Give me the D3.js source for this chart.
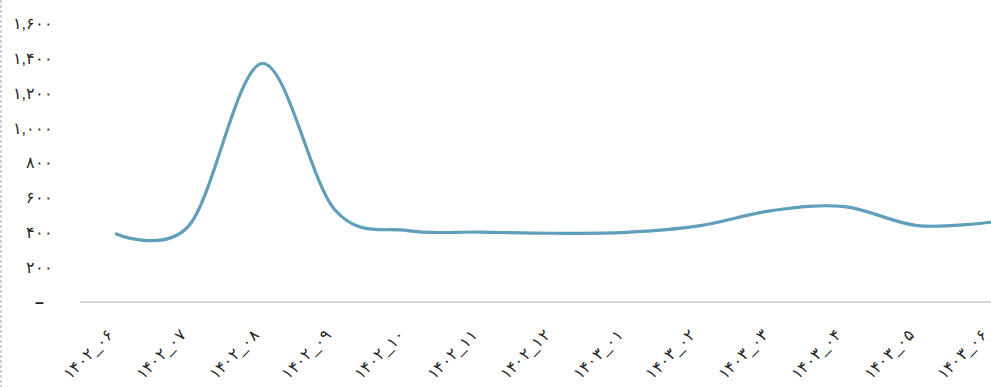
<!DOCTYPE html>
<html>
<head>
<meta charset="utf-8">
<script src="https://cdn.jsdelivr.net/npm/d3@7"></script>
<style>
  body { margin: 0; background: white; }
  svg { display: block; font-family: "DejaVu Sans", sans-serif; }
</style>
</head>
<body>
<svg id="chart"></svg>
<script>
// months (jalali) and values
var months = ["1402_06","1402_07","1402_08","1402_09","1402_10","1402_11","1402_12",
              "1403_01","1403_02","1403_03","1403_04","1403_05","1403_06"];
var values = [391, 440, 1370, 530, 410, 402, 395, 400, 437, 525, 548, 439, 458];
var yTicks = [0, 200, 400, 600, 800, 1000, 1200, 1400, 1600];

var props = {
  svg: {width: 991, height: 387},
  line: {stroke: "#5f9fba", width: 3.2},
  axis: {stroke: "#d9d9d9", text: "#262626"}
};

// latin -> persian digits
function fa(s){
  return String(s).replace(/[0-9]/g, function(c){ return "۰۱۲۳۴۵۶۷۸۹"[+c]; });
}

var data = months.map(function(m, i){ return {month: m, value: values[i]}; });

var left = 80, band = 72.8;

var svg = d3.select("#chart")
    .attr("width", props.svg.width)
    .attr("height", props.svg.height);

// dashed frame edge on the left
svg.append("line")
    .attr("x1", 1).attr("x2", 1)
    .attr("y1", 0).attr("y2", props.svg.height)
    .attr("stroke", "#d0d0d0")
    .attr("stroke-width", 2)
    .attr("stroke-dasharray", "3,2");

var x = d3.scaleBand()
    .domain(months)
    .range([left, left + band * months.length])
    .padding(0);

var y = d3.scaleLinear()
    .domain([0, 1600])
    .range([302, 23.5]);

// y axis labels
var yAxis = svg.append("g")
    .attr("transform", "translate(" + left + ",0)")
    .call(d3.axisLeft(y)
            .tickValues(yTicks)
            .tickSize(0)
            .tickPadding(27)
            .tickFormat(function(d){ return d === 0 ? "–" : fa(d3.format(",")(d)); }));
yAxis.select(".domain").remove();
yAxis.selectAll("text")
    .attr("fill", props.axis.text)
    .style("font-size", "16px");
yAxis.selectAll(".tick").filter(function(d){ return d === 0; })
    .select("text")
    .attr("x", -36)
    .style("font-weight", "bold");

// baseline
svg.append("line")
    .attr("x1", left).attr("x2", props.svg.width)
    .attr("y1", y(0)).attr("y2", y(0))
    .attr("stroke", props.axis.stroke)
    .attr("stroke-width", 2);

// x axis labels
var xAxis = svg.append("g")
    .attr("transform", "translate(0," + y(0) + ")")
    .call(d3.axisBottom(x)
            .tickSize(0)
            .tickFormat(function(d){ return fa(d); }));
xAxis.select(".domain").remove();
xAxis.selectAll("text")
    .attr("fill", props.axis.text)
    .style("font-size", "16px")
    .style("text-anchor", "end")
    .attr("x", 0)
    .attr("y", 0)
    .attr("dy", "0")
    .attr("transform", "translate(-2,34) rotate(-45)");

// smoothed line
var line = d3.line()
    .x(function(d){ return x(d.month) + x.bandwidth() / 2; })
    .y(function(d){ return y(d.value); })
    .curve(d3.curveCatmullRom.alpha(0));

svg.append("path")
    .datum(data)
    .attr("fill", "none")
    .attr("stroke", props.line.stroke)
    .attr("stroke-width", props.line.width)
    .attr("stroke-linecap", "round")
    .attr("d", line);
</script>
</body>
</html>
